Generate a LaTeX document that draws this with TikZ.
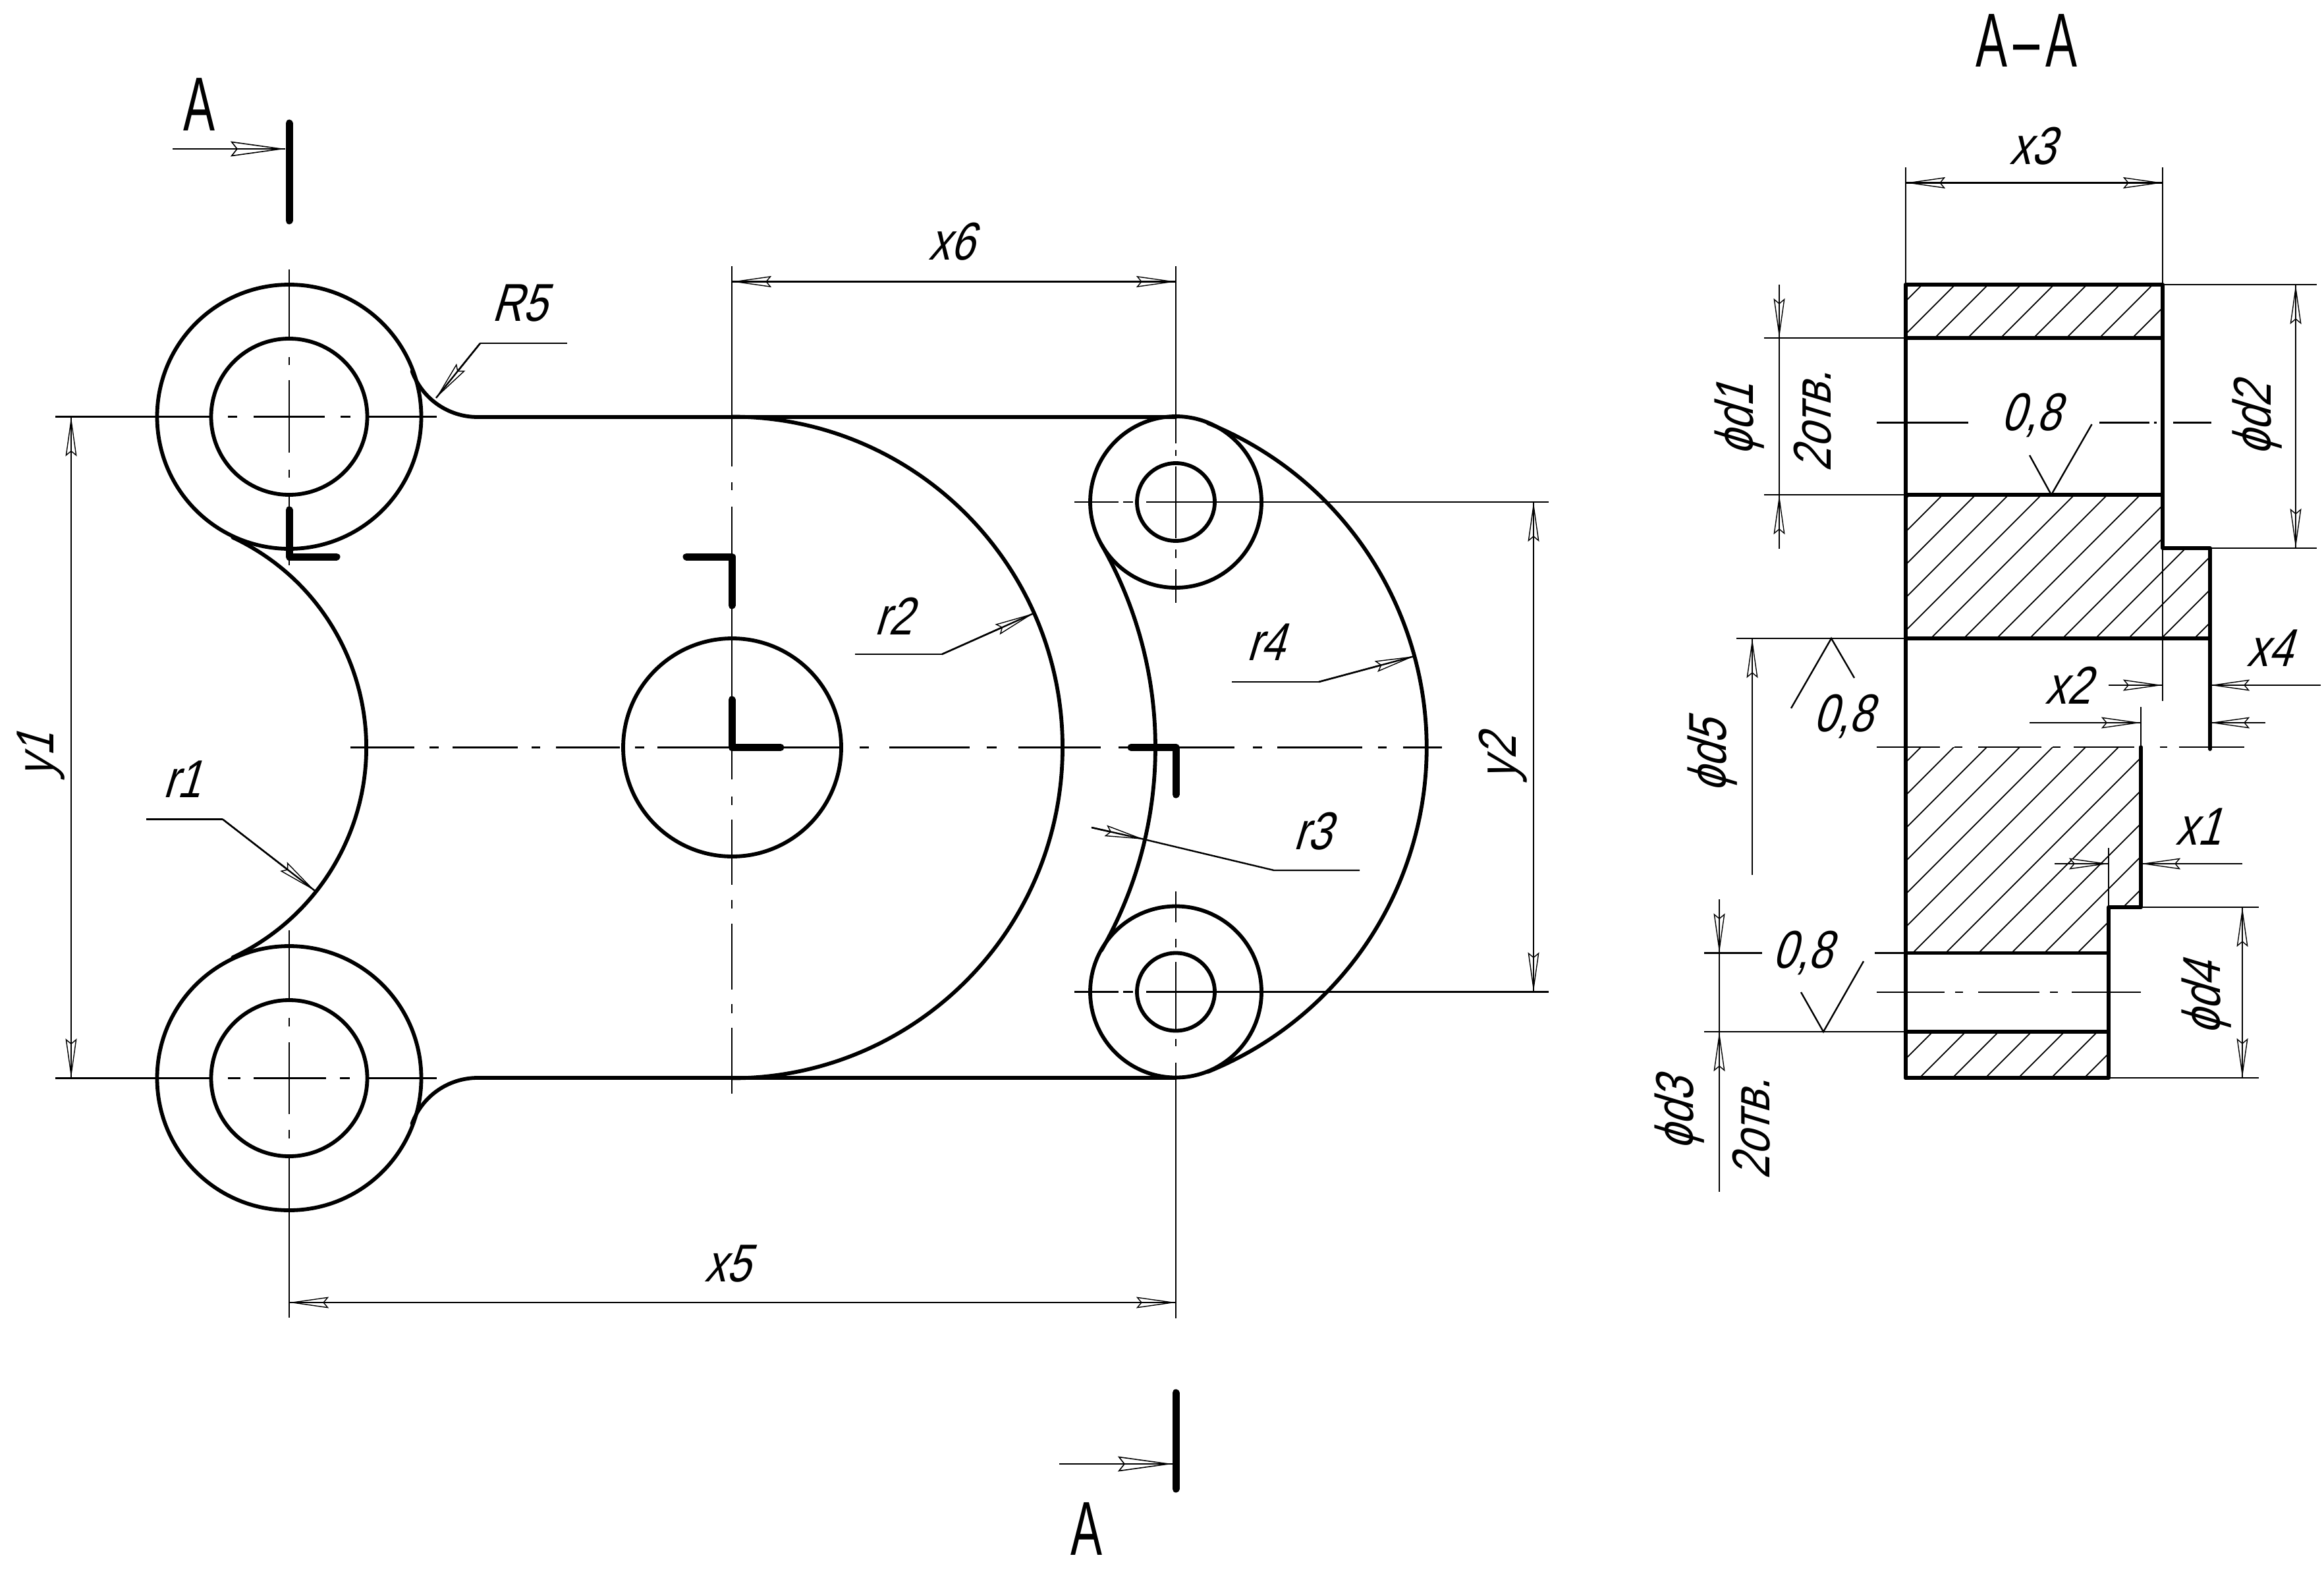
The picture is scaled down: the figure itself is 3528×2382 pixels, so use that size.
\documentclass[tikz,border=0pt]{standalone}
\usepackage{fontspec}
\usetikzlibrary{arrows.meta}
\setmainfont{Liberation Sans}
\newfontfamily\gostslant[FakeSlant=0.3,FakeStretch=0.8]{Liberation Sans}
\newfontfamily\gostup[FakeStretch=0.62]{Liberation Sans}
\newcommand\tl[1]{#1\kern0.18cm}
\tikzset{
  x=0.01cm,y=-0.01cm,
  contour/.style={line width=0.058cm,line join=round,line cap=round},
  smark/.style={line width=0.11cm,line join=round,line cap=round},
  thinl/.style={line width=0.024cm},
  hatchl/.style={line width=0.018cm},
  dtip/.tip={Stealth[length=0.6cm,width=0.17cm,inset=0.07cm,fill=white,line width=0.014cm]},
  stip/.tip={Stealth[length=0.83cm,width=0.23cm,inset=0.09cm,fill=white,line width=0.016cm]},
  dimto/.style={thinl,-{dtip},postaction={draw,-}},
  dimboth/.style={thinl,{dtip}-{dtip},postaction={draw,-}},
  secto/.style={thinl,-{stip},postaction={draw,-}},
  lbl/.style={inner sep=0pt,font=\gostslant\fontsize{23}{23}\selectfont},
  big/.style={inner sep=0pt,font=\gostup\fontsize{33}{33}\selectfont},
}
\begin{document}
\begin{tikzpicture}
\useasboundingbox (0,0) rectangle (3528,2382);
\fill[white] (0,0) rectangle (3528,2382);

% ---------- hatching of the section
\begin{scope}
\clip (2893,432) rectangle (3283,513);
\foreach \c in {3250,3300,...,5300} \draw[hatchl] (\c-400,400) -- (\c-1700,1700);
\end{scope}
\begin{scope}
\clip (2893,751) -- (3283,751) -- (3283,832) -- (3355,832) -- (3355,969) -- (2893,969) -- cycle;
\foreach \c in {3250,3300,...,5300} \draw[hatchl] (\c-400,400) -- (\c-1700,1700);
\end{scope}
\begin{scope}
\clip (2893,1134) -- (3250,1134) -- (3250,1377) -- (3201,1377) -- (3201,1446.5) -- (2893,1446.5) -- cycle;
\foreach \c in {3250,3300,...,5300} \draw[hatchl] (\c-400,400) -- (\c-1700,1700);
\end{scope}
\begin{scope}
\clip (2893,1566) rectangle (3201,1636);
\foreach \c in {3250,3300,...,5300} \draw[hatchl] (\c-400,400) -- (\c-1700,1700);
\end{scope}

% ---------- axes of the front view
\foreach \a/\b in {532/629,652/666,687/786,807/820,844/941,964/978,998/1185,1185/1277,1305/1319,1350/1472,1498/1513,1546/1671,1698/1712,1717/1874,1902/1916,1939/2068,2092/2105,2130/2189}
  \draw[thinl] (\a,1134.5) -- (\b,1134.5);
\foreach \a/\b in {404/708,732/744,769/1183,1209/1222,1244/1343,1366/1379,1402/1502,1524/1538,1560/1660}
  \draw[thinl] (1111,\a) -- (1111,\b);
\foreach \a/\b in {409/514,542/554,577/687,713/725,753/858,1412/1516,1545/1558,1582/1691,1715/1728,1755/2000}
  \draw[thinl] (439,\a) -- (439,\b);
\foreach \a/\b in {404/673,683/692,708/817,834/847,864/915,1353/1400,1425/1438,1460/1562,1577/1588,1613/2001}
  \draw[thinl] (1785,\a) -- (1785,\b);
\foreach \a/\b in {84/318,346/360,385/493,517/532,555/663}
  \draw[thinl] (\a,632.5) -- (\b,632.5);
\foreach \a/\b in {84/321,346/365,385/495,516/531,558/663}
  \draw[thinl] (\a,1636.5) -- (\b,1636.5);
\foreach \a/\b in {1631/1698,1705/1720,1740/2351}{
  \draw[thinl] (\a,762) -- (\b,762);
  \draw[thinl] (\a,1505.5) -- (\b,1505.5);
}

% ---------- front view contour
\draw[contour] (439,632.5) circle[radius=200.5];
\draw[contour] (439,632.5) circle[radius=118.5];
\draw[contour] (439,1636.5) circle[radius=200.5];
\draw[contour] (439,1636.5) circle[radius=118.5];
\draw[contour] (1785,762) circle[radius=130];
\draw[contour] (1785,762) circle[radius=59];
\draw[contour] (1785,1505.5) circle[radius=130];
\draw[contour] (1785,1505.5) circle[radius=59];
\draw[contour] (1111.5,1134.5) circle[radius=165.5];
\draw[contour] (725,527) ++(159.8:106) arc[start angle=159.8,end angle=90,radius=106] -- (1785,633);
\draw[contour] (725,1742) ++(200.2:106) arc[start angle=200.2,end angle=270,radius=106] -- (1785,1636);
\draw[contour] (204,1134.5) ++(-64.9:352) arc[start angle=-64.9,end angle=64.9,radius=352];
\draw[contour] (1111,1134.5) ++(-90:502) arc[start angle=-90,end angle=90,radius=502];
\draw[contour] (1134,1134.5) ++(-29.8:620) arc[start angle=-29.8,end angle=29.8,radius=620];
\draw[contour] (1634.6,1134.5) ++(-68:531) arc[start angle=-68,end angle=68,radius=531];

% ---------- section marks
\draw[smark] (439,187) -- (439,335);
\draw[smark] (1785,2114) -- (1785,2260);
\draw[smark] (439,774) -- (439,845) -- (511,845);
\draw[smark] (1042,845) -- (1111,845) -- (1111,919);
\draw[smark] (1111,1062) -- (1111,1134.5) -- (1185,1134.5);
\draw[smark] (1717,1134.5) -- (1785,1134.5) -- (1785,1206);
\draw[secto] (262,226) -- (433,226);
\draw[secto] (1608,2222) -- (1780,2222);
\node[big] (ta) at (302,159) {A};
\node[big] (ba) at (1649,2321) {A};
\node[big] (aa) at (3076,62) {A\kern0.09cm–\kern0.09cm A};

% ---------- front view dimensions
\draw[dimboth] (439,1977) -- (1785,1977);
\draw[dimboth] (1111,427.5) -- (1785,427.5);
\draw[dimboth] (108,632.5) -- (108,1636.5);
\draw[dimboth] (2328,762) -- (2328,1505.5);
\node[lbl] (x5) at (1113,1918) {\tl{x5}};
\node[lbl] (x6) at (1453,367) {\tl{x6}};
\node[lbl,rotate=90] (y1) at (62,1138) {\tl{y1}};
\node[lbl,rotate=90] (y2) at (2282,1142) {\tl{y2}};

\draw[thinl] (861,521) -- (729,521);
\draw[dimto] (729,521) -- (662,604);
\node[lbl] (r5) at (797,460) {\tl{R5}};
\draw[thinl] (222,1243.5) -- (338,1243.5);
\draw[dimto] (338,1243.5) -- (478,1352);
\node[lbl] (r1) at (285,1183) {\tl{r1}};
\draw[thinl] (1298,993) -- (1430,993);
\draw[dimto] (1430,993) -- (1569,931);
\node[lbl] (r2) at (1365,935) {\tl{r2}};
\draw[thinl] (1870,1035) -- (2002,1035);
\draw[dimto] (2002,1035) -- (2147,996);
\node[lbl] (r4) at (1930,975) {\tl{r4}};
\draw[thinl] (2064,1321) -- (1934,1321) -- (1737,1274);
\draw[dimto] (1657,1256) -- (1737,1274);
\node[lbl] (r3) at (2001,1262) {\tl{r3}};

% ---------- section contour
\draw[contour] (2893,432) -- (2893,1636);
\draw[contour] (2893,432) -- (3283,432) -- (3283,832) -- (3355,832) -- (3355,1137);
\draw[contour] (2893,513) -- (3283,513);
\draw[contour] (2893,751) -- (3283,751);
\draw[contour] (2893,969) -- (3355,969);
\draw[contour] (3250,1134) -- (3250,1377) -- (3201,1377) -- (3201,1636) -- (2893,1636);
\draw[contour] (2893,1446.5) -- (3201,1446.5);
\draw[contour] (2893,1566) -- (3201,1566);

% ---------- section axes and thin lines
\foreach \a/\b in {2849/2988,3187/3263,3270/3274,3299/3357}
  \draw[thinl] (\a,641.5) -- (\b,641.5);
\foreach \a/\b in {2849/2945,2967/2979,3003/3099,3116/3128,3148/3240,3279/3290,3308/3407}
  \draw[thinl] (\a,1134) -- (\b,1134);
\foreach \a/\b in {2849/2952,2968/2980,3003/3096,3112/3124,3145/3250}
  \draw[thinl] (\a,1506) -- (\b,1506);
\draw[thinl] (3283,832) -- (3283,1064);
\draw[thinl] (3250,1073) -- (3250,1134);
\draw[thinl] (3201,1287) -- (3201,1377);

% x3
\draw[thinl] (2893,254) -- (2893,432);
\draw[thinl] (3283,254) -- (3283,432);
\draw[dimboth] (2893,277.5) -- (3283,277.5);
\node[lbl] (x3) at (3094,222) {\tl{x3}};
% d1
\draw[thinl] (2678,513) -- (2893,513);
\draw[thinl] (2678,751) -- (2893,751);
\draw[dimto] (2701,432) -- (2701,513);
\draw[dimto] (2701,833) -- (2701,751);
\draw[thinl] (2701,513) -- (2701,751);
\node[lbl,rotate=90] (d1) at (2641,628) {\tl{ϕd1}};
\node[lbl,rotate=90] (n1) at (2752,631) {\tl{2отв.}};
% d2
\draw[thinl] (3283,432) -- (3517,432);
\draw[thinl] (3355,832) -- (3517,832);
\draw[dimboth] (3485,432) -- (3485,832);
\node[lbl,rotate=90] (d2) at (3427,628) {\tl{ϕd2}};
% x4
\draw[dimto] (3201,1040) -- (3283,1040);
\draw[dimto] (3523,1040) -- (3355,1040);
\node[lbl] (x4) at (3454,984) {\tl{x4}};
% x2
\draw[dimto] (3081,1097) -- (3250,1097);
\draw[dimto] (3439,1097) -- (3355,1097);
\node[lbl] (x2) at (3148,1040) {\tl{x2}};
% x1
\draw[dimto] (3119,1311) -- (3201,1311);
\draw[dimto] (3404,1311) -- (3250,1311);
\node[lbl] (x1) at (3346,1255) {\tl{x1}};
% d5
\draw[thinl] (2636,969) -- (2893,969);
\draw[dimto] (2660,1328) -- (2660,969);
\node[lbl,rotate=90] (d5) at (2600,1139) {\tl{ϕd5}};
% d3
\draw[thinl] (2587,1446.5) -- (2675,1446.5);
\draw[thinl] (2846,1446.5) -- (2893,1446.5);
\draw[thinl] (2587,1566) -- (2893,1566);
\draw[dimto] (2610,1365) -- (2610,1446.5);
\draw[dimto] (2610,1809) -- (2610,1566);
\draw[thinl] (2610,1446.5) -- (2610,1566);
\node[lbl,rotate=90] (d3) at (2550,1682) {\tl{ϕd3}};
\node[lbl,rotate=90] (n3) at (2659,1705) {\tl{2отв.}};
% d4
\draw[thinl] (3250,1377) -- (3429,1377);
\draw[thinl] (3201,1636) -- (3429,1636);
\draw[dimboth] (3404,1377) -- (3404,1636);
\node[lbl,rotate=90] (d4) at (3350,1507) {\tl{ϕd4}};

% ---------- roughness marks
\draw[thinl] (3081,691) -- (3114,751) -- (3175.5,644);
\node[lbl] (s1) at (3091,630) {\tl{0,8}};
\draw[thinl] (2719,1075) -- (2780,969) -- (2815,1029);
\node[lbl] (s2) at (2806,1087) {\tl{0,8}};
\draw[thinl] (2734,1506) -- (2768,1566) -- (2829,1459);
\node[lbl] (s3) at (2744,1446) {\tl{0,8}};
\end{tikzpicture}
\end{document}
